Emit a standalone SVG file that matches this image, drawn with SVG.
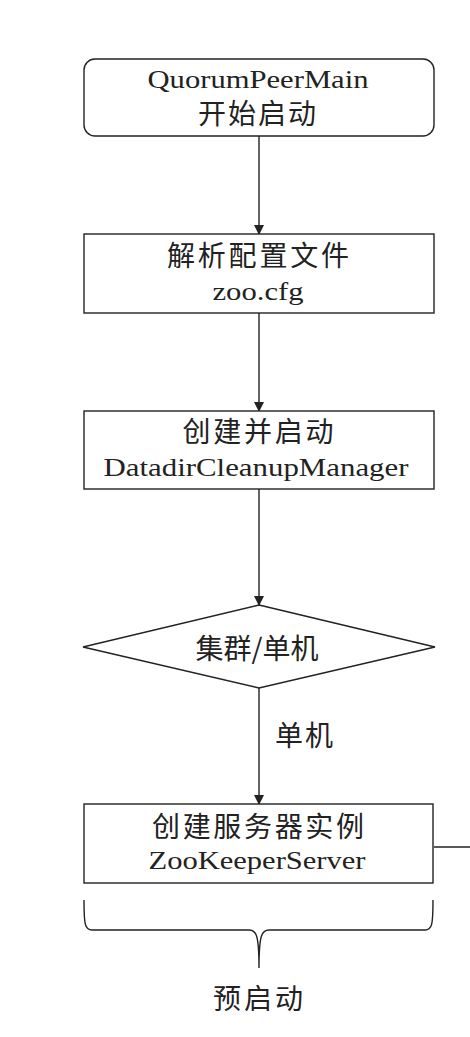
<svg xmlns="http://www.w3.org/2000/svg" width="470" height="1037" viewBox="0 0 470 1037">
<style>
.box{fill:#fff;stroke:#222;stroke-width:1.4}
.ln{fill:none;stroke:#222;stroke-width:1.4}
.lat{font-family:"Liberation Serif","Times New Roman",serif;font-size:25.5px;fill:#222;text-anchor:middle}
.cjk{font-family:"Noto Sans CJK SC","Noto Sans",sans-serif;font-size:28px;fill:#222;text-anchor:middle}
</style>
<defs>
<marker id="arr" markerWidth="10" markerHeight="12" refX="9" refY="5" orient="auto" markerUnits="userSpaceOnUse" viewBox="0 0 10 10">
<path d="M0,0 L10,5 L0,10 Z" fill="#222"/>
</marker>
</defs>
<rect width="470" height="1037" fill="#fff"/>
<g id="connectors">
<line class="ln" x1="259" y1="136" x2="259" y2="234" marker-end="url(#arr)"/>
<line class="ln" x1="259" y1="313" x2="259" y2="411" marker-end="url(#arr)"/>
<line class="ln" x1="259" y1="489" x2="259" y2="605" marker-end="url(#arr)"/>
<line class="ln" x1="259" y1="688" x2="259" y2="804" marker-end="url(#arr)"/>
<text class="cjk" x="304" y="746" textLength="58" lengthAdjust="spacing">单机</text>
<line class="ln" x1="434" y1="847" x2="470" y2="847"/>
</g>
<g id="n1">
<rect class="box" x="84" y="59" width="350" height="77" rx="11"/>
<text class="lat" x="258" y="88" textLength="221" lengthAdjust="spacingAndGlyphs">QuorumPeerMain</text>
<text class="cjk" x="257" y="124" textLength="118" lengthAdjust="spacing">开始启动</text>
</g>
<g id="n2">
<rect class="box" x="84" y="234" width="350" height="79"/>
<text class="cjk" x="258" y="266" textLength="182" lengthAdjust="spacing">解析配置文件</text>
<text class="lat" x="258" y="300" textLength="91" lengthAdjust="spacingAndGlyphs">zoo.cfg</text>
</g>
<g id="n3">
<rect class="box" x="84" y="411" width="350" height="78"/>
<text class="cjk" x="258" y="442" textLength="151" lengthAdjust="spacing">创建并启动</text>
<text class="lat" x="256" y="476" textLength="305" lengthAdjust="spacingAndGlyphs">DatadirCleanupManager</text>
</g>
<g id="n4">
<polygon class="box" points="259,605 435,647 259,688 83,647"/>
<text class="cjk" x="257" y="659">集群/单机</text>
</g>
<g id="n5">
<rect class="box" x="84" y="804" width="349" height="79"/>
<text class="cjk" x="258" y="837" textLength="212" lengthAdjust="spacing">创建服务器实例</text>
<text class="lat" x="257" y="869" textLength="217" lengthAdjust="spacingAndGlyphs">ZooKeeperServer</text>
</g>
<g id="brace">
<path class="ln" d="M84,900 C84,925 85,930 92,930 L249,930 C256,930 259,934 259,968 C259,934 262,930 269,930 L425,930 C432,930 433,925 433,900"/>
<text class="cjk" x="258" y="1009" textLength="90" lengthAdjust="spacing">预启动</text>
</g>
</svg>
